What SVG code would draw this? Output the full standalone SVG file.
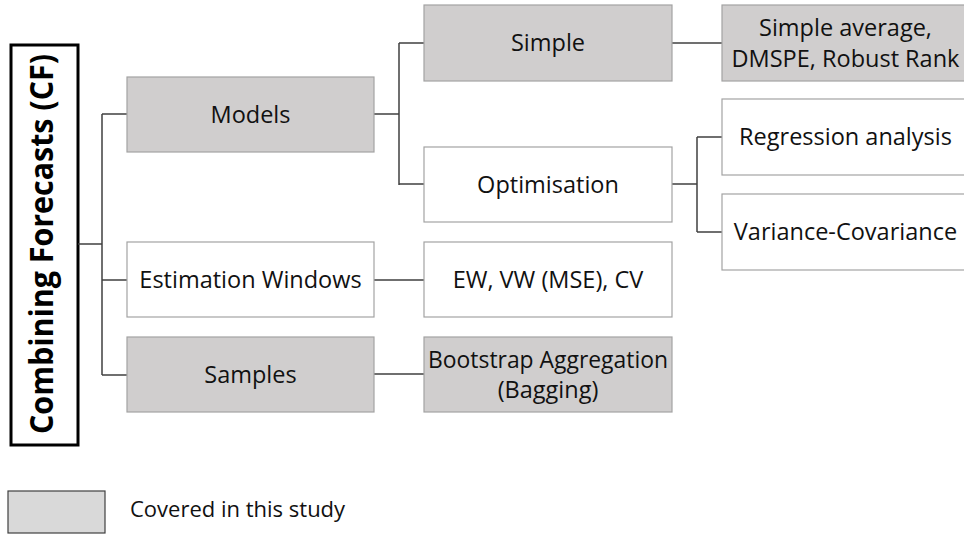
<svg xmlns="http://www.w3.org/2000/svg" width="964" height="534" viewBox="0 0 964 534">
<style>
.box{stroke:#a3a3a3;stroke-width:1.2}
.g{fill:#d0cece}
.w{fill:#ffffff}
.t{font-family:"Open Sans","Noto Sans","Liberation Sans",sans-serif;font-size:23.5px;fill:#111;text-anchor:middle}
.c{fill:none;stroke:#404040;stroke-width:1.5}
</style>
<rect width="964" height="534" fill="#fff"/>
<g id="cf">
<rect x="11" y="45" width="67" height="400" fill="#fff" stroke="#000" stroke-width="3"/>
<text transform="translate(53,244) rotate(-90)" text-anchor="middle" font-family="'Open Sans','Noto Sans',sans-serif" font-weight="bold" font-size="32" fill="#000" textLength="380" lengthAdjust="spacingAndGlyphs">Combining Forecasts (CF)</text>
</g>
<g id="connectors">
<path class="c" d="M78,244H102M102,114V375M102,114H127M102,280H127M102,375H127"/>
<path class="c" d="M374,114H399M399,43V185M399,43H424M399,184H424"/>
<path class="c" d="M672,43H722"/>
<path class="c" d="M672,184H697M697,137V232M697,137H722M697,232H722"/>
<path class="c" d="M374,280H424M374,374H424"/>
</g>
<g id="models"><rect class="box g" x="127" y="77" width="247" height="75"/><text class="t" x="250.5" y="122.5">Models</text></g>
<g id="estimation-windows"><rect class="box w" x="127" y="242" width="247" height="75"/><text class="t" x="250.5" y="287.5">Estimation Windows</text></g>
<g id="samples"><rect class="box g" x="127" y="337" width="247" height="75"/><text class="t" x="250.5" y="382.5">Samples</text></g>
<g id="simple"><rect class="box g" x="424" y="5" width="248" height="76"/><text class="t" x="548" y="51">Simple</text></g>
<g id="optimisation"><rect class="box w" x="424" y="147" width="248" height="75"/><text class="t" x="548" y="192.5">Optimisation</text></g>
<g id="ew"><rect class="box w" x="424" y="242" width="248" height="75"/><text class="t" x="548" y="287.5">EW, VW (MSE), CV</text></g>
<g id="bagging"><rect class="box g" x="424" y="337" width="248" height="75"/><text class="t" x="548" y="368" textLength="240" lengthAdjust="spacingAndGlyphs">Bootstrap Aggregation</text><text class="t" x="548" y="398">(Bagging)</text></g>
<g id="simple-average"><rect class="box g" x="722" y="5" width="247" height="76"/><text class="t" x="845.5" y="36">Simple average,</text><text class="t" x="845.5" y="67">DMSPE, Robust Rank</text></g>
<g id="regression"><rect class="box w" x="722" y="99" width="247" height="76"/><text class="t" x="845.5" y="145">Regression analysis</text></g>
<g id="variance"><rect class="box w" x="722" y="194" width="247" height="76"/><text class="t" x="845.5" y="240">Variance-Covariance</text></g>
<g id="legend"><rect x="8" y="491" width="97" height="42" fill="#d9d9d9" stroke="#404040" stroke-width="1.2"/><text x="130" y="517" font-family="'Open Sans','Noto Sans',sans-serif" font-size="22" fill="#111">Covered in this study</text></g>
</svg>
